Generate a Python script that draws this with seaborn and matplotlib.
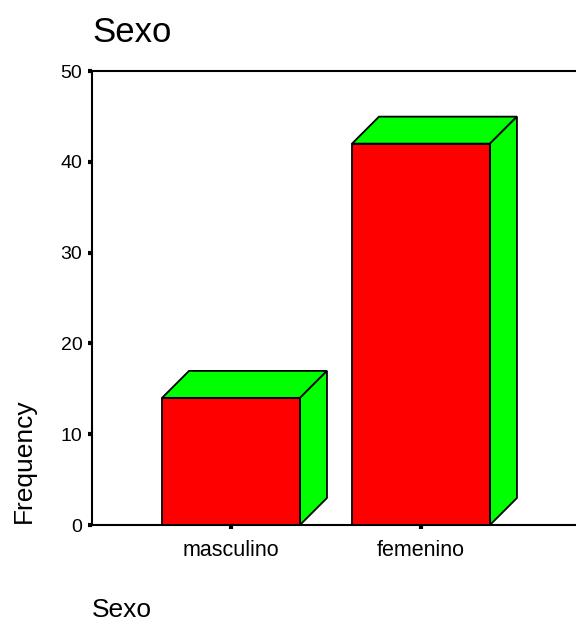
import matplotlib
matplotlib.use("Agg")
import matplotlib.pyplot as plt
import seaborn as sns
import pandas as pd
from matplotlib.patches import Polygon

sns.set_theme(style="white")
plt.rcParams["font.family"] = ["Liberation Sans", "DejaVu Sans"]
plt.rcParams["text.color"] = "black"
plt.rcParams["xtick.color"] = "black"
plt.rcParams["ytick.color"] = "black"

categories = ["masculino", "femenino"]
frequency = [14, 42]
y_ticks = [0, 10, 20, 30, 40, 50]

df = pd.DataFrame({"Sexo": categories, "Frequency": frequency})

W, H = 576, 625
fig = plt.figure(figsize=(W / 100, H / 100), dpi=100)
left_px, right_px, top_px, bottom_px = 92, 576, 71, 525
ax = fig.add_axes([left_px / W, 1 - bottom_px / H,
                   (right_px - left_px) / W, (bottom_px - top_px) / H])

bar_width = 0.726
sns.barplot(data=df, x="Sexo", y="Frequency", ax=ax, width=bar_width,
            color="#ff0000", saturation=1, edgecolor="black", linewidth=1.3,
            zorder=3)

ax.set_xlim(-0.7316, 1.816)
ax.set_ylim(0, 50)
ax.set_yticks(y_ticks)

# 3D depth of each bar, in pixels
depth_px = 27
fig.canvas.draw()
p0 = ax.transData.transform((0, 0))
p1 = ax.transData.transform((1, 1))
dx = depth_px / (p1[0] - p0[0])
dy = depth_px / (p1[1] - p0[1])

for i, v in enumerate(frequency):
    x0 = i - bar_width / 2
    x1 = i + bar_width / 2
    top = Polygon([(x0, v), (x0 + dx, v + dy), (x1 + dx, v + dy), (x1, v)],
                  closed=True, facecolor="#00ff00", edgecolor="black",
                  linewidth=1.3, zorder=2, clip_on=False)
    side = Polygon([(x1, 0), (x1 + dx, dy), (x1 + dx, v + dy), (x1, v)],
                   closed=True, facecolor="#00ff00", edgecolor="black",
                   linewidth=1.3, zorder=2, clip_on=False)
    ax.add_patch(top)
    ax.add_patch(side)

for side_name in ["left", "bottom", "top"]:
    ax.spines[side_name].set_visible(True)
    ax.spines[side_name].set_color("black")
    ax.spines[side_name].set_linewidth(1.5)
ax.spines["right"].set_visible(False)
ax.spines["left"].set_zorder(4)
ax.spines["bottom"].set_zorder(4)

ax.tick_params(axis="y", direction="out", length=3, width=3, color="black",
               labelcolor="black", pad=4, labelsize=14, left=True)
ax.tick_params(axis="x", direction="out", length=3, width=3, color="black",
               labelcolor="black", pad=8, labelsize=15.5, bottom=True)
ax.set_xlabel("")
ax.set_ylabel("")
ax.grid(False)

fig.text(92 / W, 1 - 42 / H, "Sexo", fontsize=25, ha="left",
         va="baseline", color="black")
fig.text(92 / W, 1 - 617 / H, "Sexo", fontsize=19, ha="left",
         va="baseline", color="black")
fig.text(24 / W, 1 - 461 / H, "Frequency", fontsize=19, rotation=90,
         ha="center", va="center", color="black")

fig.savefig("out.png", dpi=100, facecolor="white")
